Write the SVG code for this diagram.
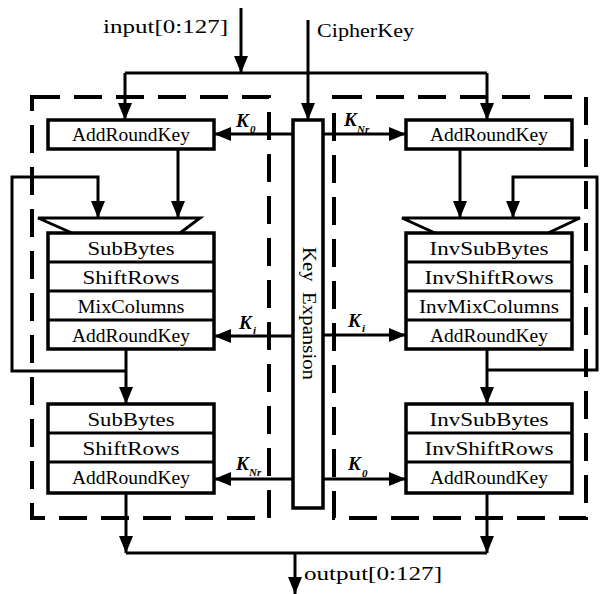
<svg xmlns="http://www.w3.org/2000/svg" width="601" height="594" viewBox="0 0 601 594">
  <defs>
    <marker id="ah" markerUnits="userSpaceOnUse" markerWidth="17" markerHeight="14" refX="17" refY="7" orient="auto" viewBox="0 0 17 14">
      <path d="M0,0 L17,7 L0,14 z" fill="#000"/>
    </marker>
    <style>
      .frame { fill: none; stroke: #000; stroke-width: 4; stroke-dasharray: 28 14; }
      .box { fill: #fff; stroke: #000; stroke-width: 3.5; }
      .div { stroke: #000; stroke-width: 3; }
      .wire { fill: none; stroke: #000; stroke-width: 3; }
      .arr { marker-end: url(#ah); }
      .funnel { fill: none; stroke: #000; stroke-width: 3; stroke-linejoin: miter; }
      .lbl { font-family: "Liberation Serif", "DejaVu Serif", serif; font-size: 19px; fill: #000; text-anchor: middle; }
      .io { font-family: "Liberation Serif", "DejaVu Serif", serif; font-size: 19px; fill: #000; }
      .k { font-family: "Liberation Serif", "DejaVu Serif", serif; font-style: italic; font-weight: bold; font-size: 19px; fill: #000; }
      .ks { font-family: "Liberation Serif", "DejaVu Serif", serif; font-style: italic; font-weight: bold; font-size: 11px; fill: #000; }
    </style>
  </defs>
  <rect width="601" height="594" fill="#fff"/>

  <!-- dashed frames: cipher (left) and inverse cipher (right) -->
  <g id="frames">
    <rect class="frame" x="32" y="97" width="237" height="421"/>
    <rect class="frame" x="334" y="97" width="252" height="421"/>
  </g>

  <!-- connectors -->
  <g id="connectors">
    <line class="wire arr" x1="241" y1="8" x2="241" y2="73"/>
    <line class="wire" x1="125" y1="73" x2="487" y2="73"/>
    <line class="wire arr" x1="125" y1="73" x2="125" y2="120"/>
    <line class="wire arr" x1="487" y1="73" x2="487" y2="120"/>
    <line class="wire arr" x1="308" y1="20" x2="308" y2="120"/>

    <!-- round keys to the cipher -->
    <line class="wire arr" x1="293" y1="134" x2="214" y2="134"/>
    <line class="wire arr" x1="293" y1="336" x2="214" y2="336"/>
    <line class="wire arr" x1="293" y1="479" x2="214" y2="479"/>
    <!-- round keys to the inverse cipher -->
    <line class="wire arr" x1="323" y1="134" x2="406" y2="134"/>
    <line class="wire arr" x1="323" y1="335" x2="406" y2="335"/>
    <line class="wire arr" x1="323" y1="479" x2="406" y2="479"/>

    <!-- cipher data path -->
    <line class="wire arr" x1="178" y1="149" x2="178" y2="218"/>
    <line class="wire arr" x1="126" y1="349" x2="126" y2="404"/>
    <polyline class="wire arr" points="126,371 12,371 12,177 98,177 98,218"/>
    <line class="wire arr" x1="126" y1="493" x2="126" y2="553"/>

    <!-- inverse cipher data path -->
    <line class="wire arr" x1="460" y1="149" x2="460" y2="218"/>
    <line class="wire arr" x1="487" y1="349" x2="487" y2="404"/>
    <polyline class="wire arr" points="487,370 597,370 597,177 513,177 513,218"/>
    <line class="wire arr" x1="487" y1="493" x2="487" y2="553"/>

    <!-- output -->
    <line class="wire" x1="126" y1="553" x2="487" y2="553"/>
    <line class="wire arr" x1="295" y1="553" x2="295" y2="594"/>
  </g>

  <!-- io labels -->
  <g id="io-labels">
    <text class="io" x="103" y="33" textLength="125" lengthAdjust="spacingAndGlyphs">input[0:127]</text>
    <text class="io" x="317" y="37" textLength="97" lengthAdjust="spacingAndGlyphs">CipherKey</text>
    <text class="io" x="304" y="580" textLength="138" lengthAdjust="spacingAndGlyphs">output[0:127]</text>
  </g>

  <!-- key expansion -->
  <g id="key-expansion">
    <rect class="box" x="293" y="120" width="30" height="388"/>
    <text class="io" transform="translate(303,247) rotate(90)" x="0" y="0" textLength="133" lengthAdjust="spacingAndGlyphs" xml:space="preserve">Key  Expansion</text>
  </g>

  <!-- round key labels -->
  <g id="key-labels">
    <text class="k" x="236" y="127">K</text><text class="ks" x="250" y="133">0</text>
    <text class="k" x="239" y="329">K</text><text class="ks" x="253" y="334">i</text>
    <text class="k" x="236" y="470">K</text><text class="ks" x="249" y="476">Nr</text>
    <text class="k" x="344" y="126">K</text><text class="ks" x="357" y="133">Nr</text>
    <text class="k" x="348" y="327">K</text><text class="ks" x="362" y="332">i</text>
    <text class="k" x="348" y="470">K</text><text class="ks" x="362" y="477">0</text>
  </g>

  <!-- cipher -->
  <g id="enc-initial">
    <rect class="box" x="48" y="120" width="166" height="29"/>
    <text class="lbl" x="131" y="141" textLength="118" lengthAdjust="spacingAndGlyphs">AddRoundKey</text>
  </g>
  <g id="enc-round">
    <path class="funnel" d="M72,233 L38,218 L200,218 L180,233"/>
    <rect class="box" x="48" y="233" width="166" height="116"/>
    <line class="div" x1="48" y1="262" x2="214" y2="262"/>
    <line class="div" x1="48" y1="291" x2="214" y2="291"/>
    <line class="div" x1="48" y1="320" x2="214" y2="320"/>
    <text class="lbl" x="131" y="255" textLength="87" lengthAdjust="spacingAndGlyphs">SubBytes</text>
    <text class="lbl" x="131" y="284" textLength="97" lengthAdjust="spacingAndGlyphs">ShiftRows</text>
    <text class="lbl" x="131" y="313" textLength="107" lengthAdjust="spacingAndGlyphs">MixColumns</text>
    <text class="lbl" x="131" y="342" textLength="118" lengthAdjust="spacingAndGlyphs">AddRoundKey</text>
  </g>
  <g id="enc-final">
    <rect class="box" x="48" y="404" width="166" height="89"/>
    <line class="div" x1="48" y1="433" x2="214" y2="433"/>
    <line class="div" x1="48" y1="462" x2="214" y2="462"/>
    <text class="lbl" x="131" y="426" textLength="87" lengthAdjust="spacingAndGlyphs">SubBytes</text>
    <text class="lbl" x="131" y="455" textLength="97" lengthAdjust="spacingAndGlyphs">ShiftRows</text>
    <text class="lbl" x="131" y="484" textLength="118" lengthAdjust="spacingAndGlyphs">AddRoundKey</text>
  </g>

  <!-- inverse cipher -->
  <g id="dec-initial">
    <rect class="box" x="406" y="120" width="166" height="29"/>
    <text class="lbl" x="489" y="141" textLength="118" lengthAdjust="spacingAndGlyphs">AddRoundKey</text>
  </g>
  <g id="dec-round">
    <path class="funnel" d="M435,233 L402,218 L580,218 L548,233"/>
    <rect class="box" x="406" y="233" width="166" height="116"/>
    <line class="div" x1="406" y1="262" x2="572" y2="262"/>
    <line class="div" x1="406" y1="291" x2="572" y2="291"/>
    <line class="div" x1="406" y1="320" x2="572" y2="320"/>
    <text class="lbl" x="489" y="255" textLength="119" lengthAdjust="spacingAndGlyphs">InvSubBytes</text>
    <text class="lbl" x="489" y="284" textLength="129" lengthAdjust="spacingAndGlyphs">InvShiftRows</text>
    <text class="lbl" x="489" y="313" textLength="140" lengthAdjust="spacingAndGlyphs">InvMixColumns</text>
    <text class="lbl" x="489" y="342" textLength="118" lengthAdjust="spacingAndGlyphs">AddRoundKey</text>
  </g>
  <g id="dec-final">
    <rect class="box" x="406" y="404" width="166" height="89"/>
    <line class="div" x1="406" y1="433" x2="572" y2="433"/>
    <line class="div" x1="406" y1="462" x2="572" y2="462"/>
    <text class="lbl" x="489" y="426" textLength="119" lengthAdjust="spacingAndGlyphs">InvSubBytes</text>
    <text class="lbl" x="489" y="455" textLength="129" lengthAdjust="spacingAndGlyphs">InvShiftRows</text>
    <text class="lbl" x="489" y="484" textLength="118" lengthAdjust="spacingAndGlyphs">AddRoundKey</text>
  </g>
</svg>
